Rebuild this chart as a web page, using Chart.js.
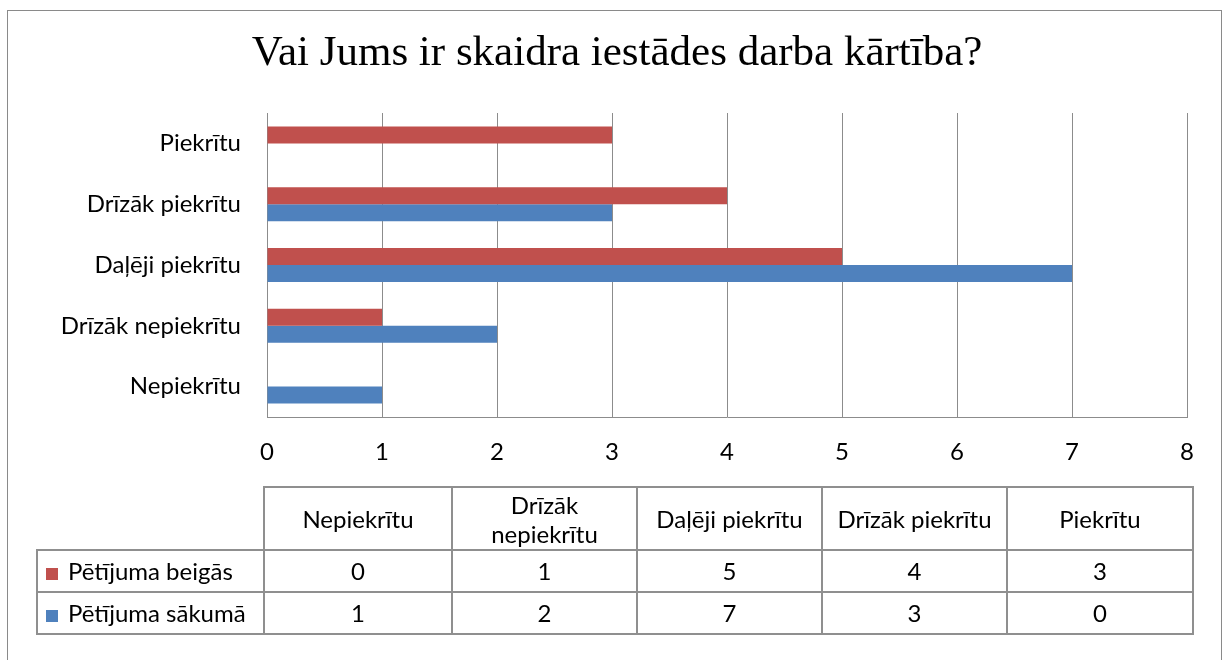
<!DOCTYPE html>
<html>
<head>
<meta charset="utf-8">
<script src="https://cdn.jsdelivr.net/npm/chart.js@4"></script>
<style>
  body { margin: 0; background: #fff; }
  #wrap { position: relative; width: 1223px; height: 660px; overflow: hidden; }
  #frame { position: absolute; left: 7px; top: 10px; width: 1213px; height: 700px; border: 1px solid #8a8a8a; }
  #mycanvas { position: absolute; left: 0; top: 0; }
  #tbl { position: absolute; left: 36px; top: 486px; border-collapse: collapse; table-layout: fixed;
         font-family: Lato, "Open Sans", sans-serif; font-size: 24px; color: #000; }
  #tbl td { border: 2px solid #8f8f8f; text-align: center; padding: 0 8px; }
  #tbl tr.head td { height: 61px; line-height: 29px; }
  #tbl tr.row td { height: 40px; line-height: 28px; }
  #tbl td.blank { border: none; border-right: 2px solid #8f8f8f; border-bottom: 2px solid #8f8f8f; }
  #tbl td.lab { text-align: left; padding-left: 8px; white-space: nowrap; }
  .key { display: inline-block; width: 12px; height: 12px; margin-right: 10px; }
</style>
</head>
<body>
<div id="wrap">
  <div id="frame"></div>
  <canvas id="mycanvas" width="1223" height="660"></canvas>
  <table id="tbl"></table>
</div>
<script>
var categories = ['Nepiekrītu', 'Drīzāk nepiekrītu', 'Daļēji piekrītu', 'Drīzāk piekrītu', 'Piekrītu'];
var beigas = [0, 1, 5, 4, 3];
var sakuma = [1, 2, 7, 3, 0];
var seriesNames = ['Pētījuma beigās', 'Pētījuma sākumā'];
var xTicks = [0, 1, 2, 3, 4, 5, 6, 7, 8];
var red = '#C0504D';
var blue = '#4F81BD';

// data table under the chart
var colWidths = [227, 188, 185, 185, 185, 186];
var tbl = document.getElementById('tbl');
var cg = '<colgroup>';
colWidths.forEach(function(w){ cg += '<col style="width:' + w + 'px">'; });
cg += '</colgroup>';
var html = cg + '<tr class="head"><td class="blank"></td>';
categories.forEach(function(c){ html += '<td>' + c + '</td>'; });
html += '</tr>';
[[seriesNames[0], red, beigas], [seriesNames[1], blue, sakuma]].forEach(function(s){
	html += '<tr class="row"><td class="lab"><span class="key" style="background:' + s[1] + '"></span>' + s[0] + '</td>';
	s[2].forEach(function(v){ html += '<td>' + v + '</td>'; });
	html += '</tr>';
});
tbl.innerHTML = html;

var grey = '#8c8c8c';
var ctx = document.getElementById('mycanvas');
var chart = new Chart(ctx, {
	type: 'bar',
	data: {
		labels: categories,
		datasets: [
			{ label: seriesNames[0], data: beigas, backgroundColor: red, barPercentage: 1, categoryPercentage: 0.557 },
			{ label: seriesNames[1], data: sakuma, backgroundColor: blue, barPercentage: 1, categoryPercentage: 0.557 }
		]
	},
	options: {
		responsive: false,
		animation: false,
		indexAxis: 'y',
		layout: { padding: { left: 47, right: 36, top: 0, bottom: 0 } },
		plugins: {
			legend: { display: false },
			tooltip: { enabled: false },
			title: {
				display: true,
				text: 'Vai Jums ir skaidra iestādes darba kārtība?',
				color: '#000',
				font: { family: '"Liberation Serif", "Times New Roman", serif', size: 43, weight: 'normal' },
				padding: { top: 28, bottom: 33.4 }
			}
		},
		scales: {
			y: {
				reverse: true,
				grid: { display: false, drawTicks: false },
				border: { display: false },
				ticks: { color: '#000', padding: 26, font: { family: 'Lato', size: 24 } },
				afterFit: function(s){ s.width = 220; }
			},
			x: {
				min: 0,
				max: 8,
				afterBuildTicks: function(s){ s.ticks = xTicks.map(function(v){ return { value: v }; }); },
				grid: { color: grey, lineWidth: 1, drawTicks: false },
				border: { display: true, color: grey, width: 1 },
				ticks: { color: '#000', padding: 21, font: { family: 'Lato', size: 24 } },
				afterFit: function(s){ s.height = 243; }
			}
		}
	}
});
</script>
</body>
</html>
